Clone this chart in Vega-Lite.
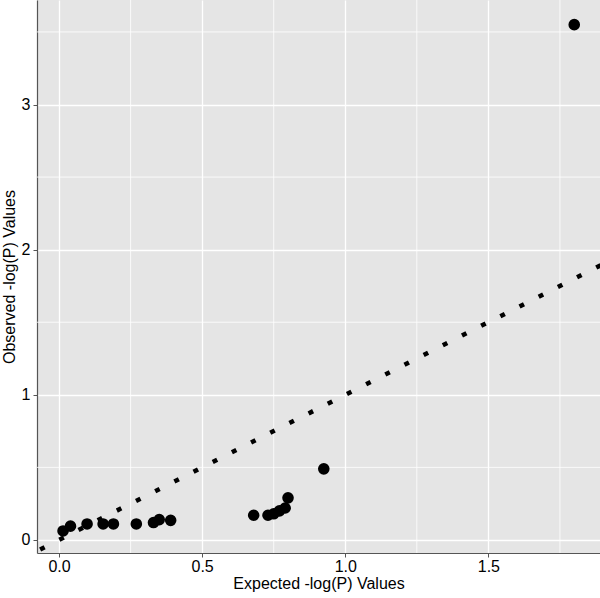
{
  "$schema": "https://vega.github.io/schema/vega-lite/v6.json",
  "width": 563,
  "height": 553,
  "autosize": {"type": "none"},
  "padding": {"left": 37, "top": 0, "right": 0, "bottom": 45},
  "background": "white",
  "config": {
    "view": {"fill": "#E5E5E5", "stroke": null},
    "axis": {
      "gridColor": "white",
      "gridWidth": 1.3,
      "domainColor": "#555555",
      "domainWidth": 1.2,
      "tickColor": "#555555",
      "tickSize": 4,
      "labelFont": "Liberation Sans",
      "labelFontSize": 16,
      "labelColor": "#000000",
      "titleFont": "Liberation Sans",
      "titleFontSize": 16,
      "titleFontWeight": "normal",
      "titleColor": "#000000"
    }
  },
  "datasets": {
    "pts": [
      {"expected": 0.014, "observed": 0.062},
      {"expected": 0.04, "observed": 0.095},
      {"expected": 0.098, "observed": 0.11},
      {"expected": 0.154, "observed": 0.11},
      {"expected": 0.19, "observed": 0.11},
      {"expected": 0.27, "observed": 0.11},
      {"expected": 0.33, "observed": 0.12},
      {"expected": 0.35, "observed": 0.14},
      {"expected": 0.39, "observed": 0.135},
      {"expected": 0.68, "observed": 0.17},
      {"expected": 0.73, "observed": 0.17},
      {"expected": 0.75, "observed": 0.18},
      {"expected": 0.77, "observed": 0.2},
      {"expected": 0.79, "observed": 0.22},
      {"expected": 0.80, "observed": 0.29},
      {"expected": 0.925, "observed": 0.49},
      {"expected": 1.80, "observed": 3.55}
    ],
    "diag": [
      {"expected": -0.2, "observed": -0.2},
      {"expected": 2.0, "observed": 2.0}
    ],
    "minorx": [{"v": 0.25}, {"v": 0.75}, {"v": 1.25}, {"v": 1.75}],
    "minory": [{"v": 0.5}, {"v": 1.5}, {"v": 2.5}, {"v": 3.5}]
  },
  "layer": [
    {
      "data": {"name": "minorx"},
      "mark": {"type": "rule", "color": "white", "strokeWidth": 0.8},
      "encoding": {
        "x": {"field": "v", "type": "quantitative", "scale": {"domain": [-0.077, 1.89], "nice": false, "zero": false}}
      }
    },
    {
      "data": {"name": "minory"},
      "mark": {"type": "rule", "color": "white", "strokeWidth": 0.8},
      "encoding": {
        "y": {"field": "v", "type": "quantitative", "scale": {"domain": [-0.09, 3.72], "nice": false, "zero": false}}
      }
    },
    {
      "data": {"name": "diag"},
      "mark": {"type": "line", "color": "black", "strokeWidth": 4.5, "strokeDash": [5, 16.5], "clip": true},
      "encoding": {
        "x": {"field": "expected", "type": "quantitative"},
        "y": {"field": "observed", "type": "quantitative"}
      }
    },
    {
      "data": {"name": "pts"},
      "mark": {"type": "circle", "color": "black", "opacity": 1, "size": 135},
      "encoding": {
        "x": {
          "field": "expected", "type": "quantitative",
          "scale": {"domain": [-0.077, 1.89], "nice": false, "zero": false},
          "axis": {"title": "Expected -log(P) Values", "values": [0, 0.5, 1, 1.5], "format": ".1f", "titlePadding": 1, "labelPadding": 1}
        },
        "y": {
          "field": "observed", "type": "quantitative",
          "scale": {"domain": [-0.09, 3.72], "nice": false, "zero": false},
          "axis": {"title": "Observed -log(P) Values", "values": [0, 1, 2, 3], "format": "d", "titlePadding": 4, "labelPadding": 3}
        }
      }
    }
  ]
}
